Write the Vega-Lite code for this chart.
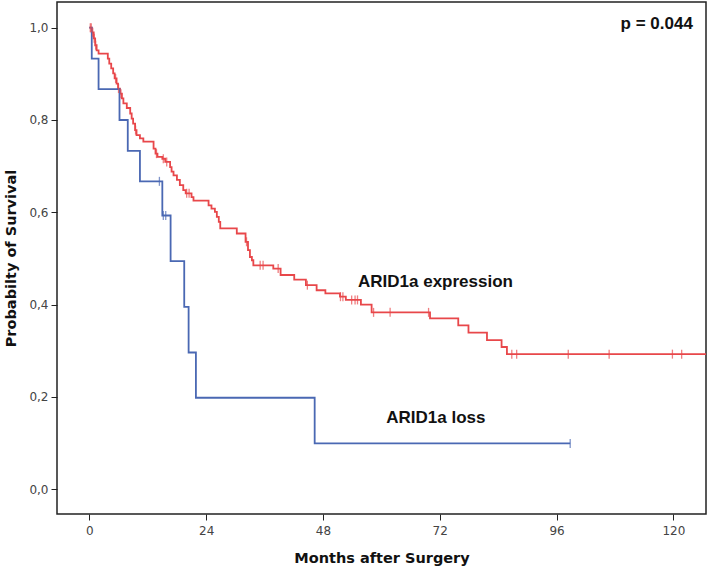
{
  "$schema": "https://vega.github.io/schema/vega-lite/v6.json",
  "width": 649,
  "height": 512,
  "autosize": {"type": "none"},
  "padding": {"left": 57, "top": 2, "right": 3, "bottom": 54},
  "background": "white",
  "config": {
    "view": {"stroke": "#222222", "strokeWidth": 1.5},
    "axis": {
      "grid": false,
      "domain": false,
      "tickColor": "#222222",
      "tickSize": 6,
      "labelFont": "DejaVu Sans",
      "labelFontSize": 12,
      "labelColor": "#444444",
      "titleFont": "DejaVu Sans",
      "titleFontSize": 14.5,
      "titleFontWeight": "bold",
      "titleColor": "#111111"
    }
  },
  "datasets": {
    "curves": [
      {"group": "expression", "month": 0, "surv": 1.0, "censor": false},
      {"group": "expression", "month": 0.2, "surv": 1.0, "censor": true},
      {"group": "expression", "month": 0.4, "surv": 1.0, "censor": true},
      {"group": "expression", "month": 0.5, "surv": 0.99, "censor": false},
      {"group": "expression", "month": 0.7, "surv": 0.99, "censor": true},
      {"group": "expression", "month": 0.9, "surv": 0.977, "censor": false},
      {"group": "expression", "month": 1.0, "surv": 0.977, "censor": true},
      {"group": "expression", "month": 1.2, "surv": 0.962, "censor": false},
      {"group": "expression", "month": 1.3, "surv": 0.962, "censor": true},
      {"group": "expression", "month": 1.5, "surv": 0.951, "censor": false},
      {"group": "expression", "month": 1.9, "surv": 0.944, "censor": false},
      {"group": "expression", "month": 3.8, "surv": 0.933, "censor": false},
      {"group": "expression", "month": 4.1, "surv": 0.922, "censor": false},
      {"group": "expression", "month": 4.5, "surv": 0.912, "censor": false},
      {"group": "expression", "month": 4.9, "surv": 0.901, "censor": false},
      {"group": "expression", "month": 5.2, "surv": 0.89, "censor": false},
      {"group": "expression", "month": 5.4, "surv": 0.89, "censor": true},
      {"group": "expression", "month": 5.6, "surv": 0.879, "censor": false},
      {"group": "expression", "month": 5.9, "surv": 0.868, "censor": false},
      {"group": "expression", "month": 6.0, "surv": 0.868, "censor": true},
      {"group": "expression", "month": 6.3, "surv": 0.857, "censor": false},
      {"group": "expression", "month": 6.5, "surv": 0.857, "censor": true},
      {"group": "expression", "month": 6.7, "surv": 0.847, "censor": false},
      {"group": "expression", "month": 7.0, "surv": 0.836, "censor": false},
      {"group": "expression", "month": 7.7, "surv": 0.826, "censor": false},
      {"group": "expression", "month": 8.4, "surv": 0.814, "censor": false},
      {"group": "expression", "month": 8.7, "surv": 0.803, "censor": false},
      {"group": "expression", "month": 9.0, "surv": 0.792, "censor": false},
      {"group": "expression", "month": 9.4, "surv": 0.778, "censor": false},
      {"group": "expression", "month": 9.5, "surv": 0.778, "censor": true},
      {"group": "expression", "month": 9.7, "surv": 0.767, "censor": false},
      {"group": "expression", "month": 10.4, "surv": 0.76, "censor": false},
      {"group": "expression", "month": 11.1, "surv": 0.753, "censor": false},
      {"group": "expression", "month": 13.2, "surv": 0.738, "censor": false},
      {"group": "expression", "month": 13.6, "surv": 0.727, "censor": false},
      {"group": "expression", "month": 13.8, "surv": 0.727, "censor": true},
      {"group": "expression", "month": 14.0, "surv": 0.72, "censor": false},
      {"group": "expression", "month": 15.0, "surv": 0.716, "censor": false},
      {"group": "expression", "month": 15.2, "surv": 0.716, "censor": true},
      {"group": "expression", "month": 15.6, "surv": 0.709, "censor": false},
      {"group": "expression", "month": 15.9, "surv": 0.709, "censor": true},
      {"group": "expression", "month": 16.6, "surv": 0.698, "censor": false},
      {"group": "expression", "month": 16.9, "surv": 0.688, "censor": false},
      {"group": "expression", "month": 17.3, "surv": 0.68, "censor": false},
      {"group": "expression", "month": 18.0, "surv": 0.67, "censor": false},
      {"group": "expression", "month": 18.6, "surv": 0.659, "censor": false},
      {"group": "expression", "month": 19.3, "surv": 0.648, "censor": false},
      {"group": "expression", "month": 19.8, "surv": 0.641, "censor": false},
      {"group": "expression", "month": 20.0, "surv": 0.641, "censor": true},
      {"group": "expression", "month": 20.5, "surv": 0.641, "censor": true},
      {"group": "expression", "month": 21.0, "surv": 0.633, "censor": false},
      {"group": "expression", "month": 21.4, "surv": 0.625, "censor": false},
      {"group": "expression", "month": 24.5, "surv": 0.615, "censor": false},
      {"group": "expression", "month": 25.1, "surv": 0.608, "censor": false},
      {"group": "expression", "month": 25.8, "surv": 0.601, "censor": false},
      {"group": "expression", "month": 26.2, "surv": 0.59, "censor": false},
      {"group": "expression", "month": 26.6, "surv": 0.579, "censor": false},
      {"group": "expression", "month": 26.9, "surv": 0.565, "censor": false},
      {"group": "expression", "month": 30.3, "surv": 0.554, "censor": false},
      {"group": "expression", "month": 32.1, "surv": 0.536, "censor": false},
      {"group": "expression", "month": 32.3, "surv": 0.536, "censor": true},
      {"group": "expression", "month": 32.6, "surv": 0.518, "censor": false},
      {"group": "expression", "month": 33.0, "surv": 0.503, "censor": false},
      {"group": "expression", "month": 33.4, "surv": 0.496, "censor": false},
      {"group": "expression", "month": 33.7, "surv": 0.485, "censor": false},
      {"group": "expression", "month": 35.1, "surv": 0.485, "censor": true},
      {"group": "expression", "month": 35.7, "surv": 0.485, "censor": true},
      {"group": "expression", "month": 37.8, "surv": 0.478, "censor": false},
      {"group": "expression", "month": 38.8, "surv": 0.478, "censor": true},
      {"group": "expression", "month": 39.3, "surv": 0.464, "censor": false},
      {"group": "expression", "month": 42.1, "surv": 0.454, "censor": false},
      {"group": "expression", "month": 44.5, "surv": 0.442, "censor": false},
      {"group": "expression", "month": 44.8, "surv": 0.442, "censor": true},
      {"group": "expression", "month": 46.7, "surv": 0.431, "censor": false},
      {"group": "expression", "month": 48.5, "surv": 0.424, "censor": false},
      {"group": "expression", "month": 51.5, "surv": 0.417, "censor": false},
      {"group": "expression", "month": 51.6, "surv": 0.417, "censor": true},
      {"group": "expression", "month": 52.1, "surv": 0.417, "censor": true},
      {"group": "expression", "month": 52.7, "surv": 0.41, "censor": false},
      {"group": "expression", "month": 53.9, "surv": 0.41, "censor": true},
      {"group": "expression", "month": 54.6, "surv": 0.41, "censor": true},
      {"group": "expression", "month": 55.1, "surv": 0.41, "censor": true},
      {"group": "expression", "month": 55.8, "surv": 0.4, "censor": false},
      {"group": "expression", "month": 58.0, "surv": 0.383, "censor": false},
      {"group": "expression", "month": 58.4, "surv": 0.383, "censor": true},
      {"group": "expression", "month": 61.8, "surv": 0.383, "censor": true},
      {"group": "expression", "month": 69.7, "surv": 0.383, "censor": true},
      {"group": "expression", "month": 70.0, "surv": 0.37, "censor": false},
      {"group": "expression", "month": 75.8, "surv": 0.355, "censor": false},
      {"group": "expression", "month": 77.9, "surv": 0.339, "censor": false},
      {"group": "expression", "month": 81.7, "surv": 0.323, "censor": false},
      {"group": "expression", "month": 84.7, "surv": 0.308, "censor": false},
      {"group": "expression", "month": 85.8, "surv": 0.2925, "censor": false},
      {"group": "expression", "month": 86.8, "surv": 0.2925, "censor": true},
      {"group": "expression", "month": 87.8, "surv": 0.2925, "censor": true},
      {"group": "expression", "month": 98.4, "surv": 0.2925, "censor": true},
      {"group": "expression", "month": 106.8, "surv": 0.2925, "censor": true},
      {"group": "expression", "month": 119.8, "surv": 0.2925, "censor": true},
      {"group": "expression", "month": 121.7, "surv": 0.2925, "censor": true},
      {"group": "expression", "month": 127.5, "surv": 0.2925, "censor": false},
      {"group": "loss", "month": 0, "surv": 1.0, "censor": false},
      {"group": "loss", "month": 0.5, "surv": 0.933, "censor": false},
      {"group": "loss", "month": 1.9, "surv": 0.867, "censor": false},
      {"group": "loss", "month": 6.2, "surv": 0.8, "censor": false},
      {"group": "loss", "month": 7.9, "surv": 0.733, "censor": false},
      {"group": "loss", "month": 10.4, "surv": 0.667, "censor": false},
      {"group": "loss", "month": 14.4, "surv": 0.667, "censor": true},
      {"group": "loss", "month": 15.0, "surv": 0.593, "censor": false},
      {"group": "loss", "month": 15.2, "surv": 0.593, "censor": true},
      {"group": "loss", "month": 15.7, "surv": 0.593, "censor": true},
      {"group": "loss", "month": 16.7, "surv": 0.494, "censor": false},
      {"group": "loss", "month": 19.5, "surv": 0.395, "censor": false},
      {"group": "loss", "month": 20.4, "surv": 0.296, "censor": false},
      {"group": "loss", "month": 21.9, "surv": 0.198, "censor": false},
      {"group": "loss", "month": 46.3, "surv": 0.099, "censor": false},
      {"group": "loss", "month": 98.8, "surv": 0.099, "censor": true}
    ],
    "labels": [
      {"month": 55.2, "surv": 0.4485, "text": "ARID1a expression", "side": "left"},
      {"month": 61.0, "surv": 0.154, "text": "ARID1a loss", "side": "left"},
      {"month": 124.0, "surv": 1.0076, "text": "p = 0.044", "side": "right"}
    ]
  },
  "layer": [
    {
      "data": {"name": "curves"},
      "mark": {"type": "line", "interpolate": "step-after", "strokeWidth": 1.8, "clip": true},
      "encoding": {
        "x": {
          "field": "month", "type": "quantitative",
          "scale": {"domain": [-6.64, 126.7], "nice": false, "zero": false},
          "axis": {
            "values": [0, 24, 48, 72, 96, 120],
            "title": "Months after Surgery",
            "labelPadding": 5,
            "titleBaseline": "middle",
            "titleY": 44
          }
        },
        "y": {
          "field": "surv", "type": "quantitative",
          "scale": {"domain": [-0.054, 1.0557], "nice": false, "zero": false},
          "axis": {
            "values": [0, 0.2, 0.4, 0.6, 0.8, 1.0],
            "labelExpr": "replace(format(datum.value, '.1f'), '.', ',')",
            "labelPadding": 3,
            "title": "Probabilty of Survival",
            "titleAngle": -90,
            "titleAlign": "center",
            "titleBaseline": "middle",
            "titleX": -46,
            "titleY": 256
          }
        },
        "color": {
          "field": "group", "type": "nominal",
          "scale": {"domain": ["expression", "loss"], "range": ["#e8474a", "#4a68b3"]},
          "legend": null
        }
      }
    },
    {
      "data": {"name": "curves"},
      "transform": [{"filter": "datum.censor"}],
      "mark": {"type": "tick", "orient": "vertical", "size": 9, "thickness": 1.3},
      "encoding": {
        "x": {"field": "month", "type": "quantitative"},
        "y": {"field": "surv", "type": "quantitative"},
        "color": {"field": "group", "type": "nominal", "legend": null}
      }
    },
    {
      "data": {"name": "labels"},
      "transform": [{"filter": "datum.side == 'left'"}],
      "mark": {"type": "text", "font": "Liberation Sans", "fontSize": 17, "fontWeight": "bold", "color": "#111111", "baseline": "middle", "align": "left"},
      "encoding": {
        "x": {"field": "month", "type": "quantitative"},
        "y": {"field": "surv", "type": "quantitative"},
        "text": {"field": "text"}
      }
    },
    {
      "data": {"name": "labels"},
      "transform": [{"filter": "datum.side == 'right'"}],
      "mark": {"type": "text", "font": "Liberation Sans", "fontSize": 17, "fontWeight": "bold", "color": "#111111", "baseline": "middle", "align": "right"},
      "encoding": {
        "x": {"field": "month", "type": "quantitative"},
        "y": {"field": "surv", "type": "quantitative"},
        "text": {"field": "text"}
      }
    }
  ]
}
